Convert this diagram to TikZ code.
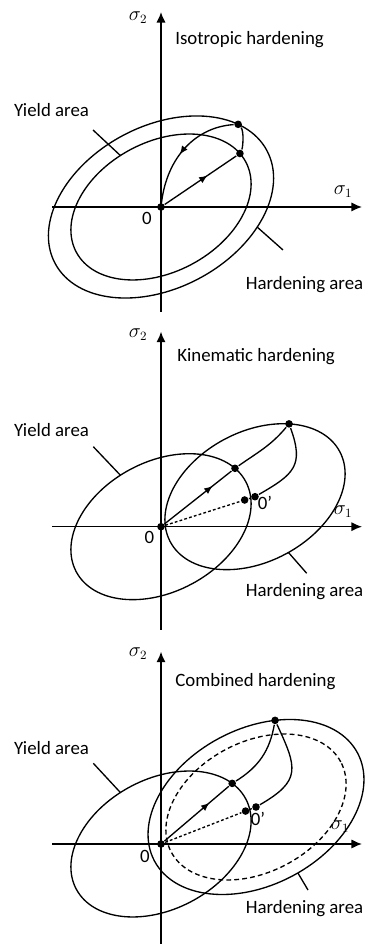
\documentclass[tikz,border=0pt]{standalone}
\usepackage{fontspec}
\setmainfont{Carlito}
\usetikzlibrary{arrows.meta,calc,decorations.markings}

\tikzset{
  dot/.style={circle,fill,inner sep=0pt,minimum size=5.4pt},
  onpath/.style={postaction={decorate},decoration={markings,
    mark=at position #1 with {\arrow{Latex[length=6pt,width=5pt]}}}},
  moveline/.style={dash pattern=on 0.7mm off 0.55mm},
  shiftell/.style={dash pattern=on 1.2mm off 0.8mm},
}

\begin{document}
\begin{tikzpicture}[x=0.25mm,y=0.25mm,line width=0.95pt,
  font=\fontsize{13.4}{16}\selectfont,>={Latex[length=7.5pt,width=6.5pt]}]
  \path[use as bounding box] (0,0) rectangle (366,944);

  % isotropic
  \begin{scope}[shift={(161,737)}]
    \draw[->] (-109,0) -- (201,0);
    \draw[->] (0,-105) -- (0,195);
    \node (s1a) at (182,15) {$\sigma_1$};
    \node (s2a) at (-23,189) {$\sigma_2$};
    \node[anchor=west] (tia) at (9,167) {Isotropic hardening};
    \node (ya) at (-109.5,97) {Yield area};
    \node (ha) at (143.5,-78) {Hardening area};
    \node (za) at (-14,-11) {0};
    \coordinate (yta) at (-68,77);
    \coordinate (hta) at (122,-43);
    \begin{scope}[rotate=28]
      \draw (0,0) ellipse (96 and 65);
      \draw (0,0) ellipse (120 and 81);
      \node[dot] (oa) at (0,0) {};
      \node[dot] (pa) at (9:96 and 65) {};
      \node[dot] (qa) at (27:120 and 81) {};
      \coordinate (yea) at (97:96 and 65);
      \coordinate (hea) at (-51:120 and 81);
    \end{scope}
    \draw[onpath=0.6] (oa) -- (pa);
    \draw (pa) .. controls (82,60) and (83,76) .. (qa);
    \draw[onpath=0.55] (qa) .. controls (35,80) and (6,50) .. (oa);
    \draw (yta) -- (yea);
    \draw (hea) -- (hta);
  \end{scope}

  % kinematic
  \begin{scope}[shift={(161,417.3)}]
    \draw[->] (-109,0) -- (201,0);
    \draw[->] (0,-103.3) -- (0,195);
    \node (s1b) at (182,15) {$\sigma_1$};
    \node (s2b) at (-23,191.7) {$\sigma_2$};
    \node[anchor=west] (tib) at (11,170) {Kinematic hardening};
    \node (yb) at (-109.5,96.7) {Yield area};
    \node (hb) at (143.5,-65) {Hardening area};
    \node (zb) at (-11.7,-10.6) {0};
    \coordinate (ytb) at (-67.7,80);
    \coordinate (htb) at (145.7,-46.6);
    \begin{scope}[rotate=28]
      \draw (0,0) ellipse (96 and 65);
      \node[dot] (ob) at (0,0) {};
      \node[dot] (pb) at (15:96 and 65) {};
      \coordinate (yeb) at (97:96 and 65);
    \end{scope}
    \begin{scope}[shift={(94,30)},rotate=28]
      \draw (0,0) ellipse (96 and 65);
      \node[dot] (cb) at (0,0) {};
      \node[dot] (qb) at (48:96 and 65) {};
      \coordinate (heb) at (-88:96 and 65);
    \end{scope}
    \node[dot] (mb) at ($(ob)!0.89!(cb)$) {};
    \node (zpb) at (104,23.4) {0'};
    \draw[onpath=0.72] (ob) -- (pb);
    \draw (pb) to[out=35,in=230] (qb);
    \draw (qb) to[out=-70,in=30,looseness=1.4] (cb);
    \draw[moveline] (ob) -- (mb);
    \draw (mb) -- (cb);
    \draw (ytb) -- (yeb);
    \draw (heb) -- (htb);
  \end{scope}

  % combined
  \begin{scope}[shift={(161,100)}]
    \draw[->] (-109,0) -- (201,0);
    \draw[->] (0,-100) -- (0,192.3);
    \node (s1c) at (179,17.3) {$\sigma_1$};
    \node (s2c) at (-23,190.7) {$\sigma_2$};
    \node[anchor=west] (tic) at (9,162.3) {Combined hardening};
    \node (yc) at (-109.5,95.7) {Yield area};
    \node (hc) at (143.5,-64.3) {Hardening area};
    \node (zc) at (-16,-12.7) {0};
    \coordinate (ytc) at (-67.7,80.7);
    \coordinate (htc) at (147,-46);
    \begin{scope}[rotate=28]
      \draw (0,0) ellipse (96 and 65);
      \node[dot] (oc) at (0,0) {};
      \node[dot] (pc) at (18:96 and 65) {};
      \coordinate (yec) at (97:96 and 65);
    \end{scope}
    \begin{scope}[shift={(95,37)},rotate=28]
      \draw[shiftell] (0,0) ellipse (96 and 65);
      \draw (0,0) ellipse (115 and 78);
      \node[dot] (cc) at (0,0) {};
      \node[dot] (qc) at (60:115 and 78) {};
      \coordinate (hec) at (-87:115 and 78);
    \end{scope}
    \node[dot] (mc) at ($(oc)!0.89!(cc)$) {};
    \node (zpc) at (97,25) {0'};
    \draw[onpath=0.7] (oc) -- (pc);
    \draw (pc) to[out=32,in=-100] (qc);
    \draw (qc) to[out=-65,in=30,looseness=1.5] (cc);
    \draw[moveline] (oc) -- (mc);
    \draw (mc) -- (cc);
    \draw (ytc) -- (yec);
    \draw (hec) -- (htc);
  \end{scope}
\end{tikzpicture}
\end{document}
